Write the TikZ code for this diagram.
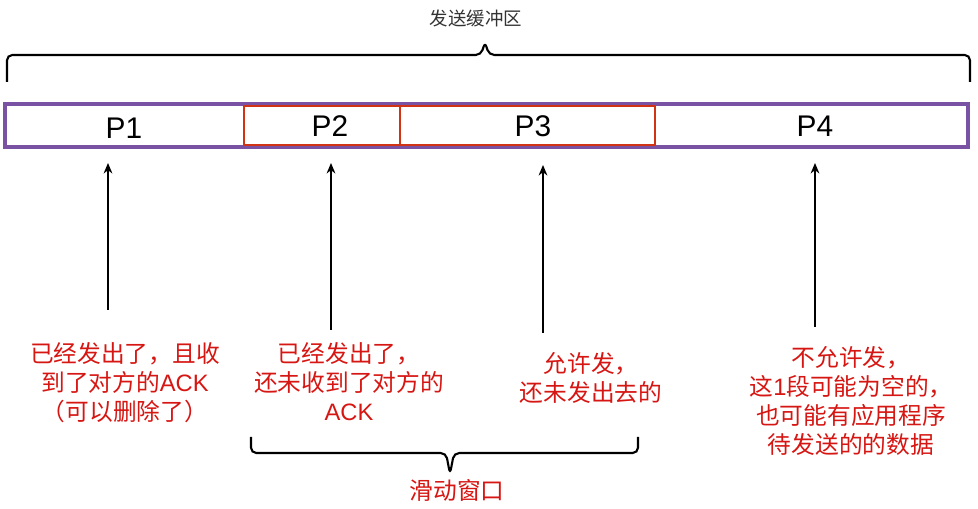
\documentclass[tikz,border=0pt]{standalone}
\usepackage{fontspec}
\setmainfont{Liberation Sans}
\newfontfamily\cjk{Noto Sans CJK SC}
\usepackage{tikz}
\usetikzlibrary{positioning, arrows.meta}
\definecolor{mypurple}{RGB}{122,82,164}
\definecolor{myred}{RGB}{208,52,20}
\definecolor{txtred}{RGB}{214,22,18}

\begin{document}
\begin{tikzpicture}[x=0.02cm, y=-0.02cm,
cell/.style={font=\fontsize{17}{20}\selectfont},
note/.style={align=center, text=txtred, font=\fontsize{13.5}{16.5}\selectfont\cjk},
arrow/.style={-{Stealth[length=6pt, width=5pt]}, line width=0.9pt},
brace/.style={line width=1.2pt, rounded corners=3pt}
]
\useasboundingbox (0,0) rectangle (978,509);

% send buffer
\node[font=\fontsize{10.5}{12}\selectfont\cjk, text=black!80] (title) at (476,18) {发送缓冲区};
\draw[brace] (7,82) -- (7,55) -- (481,55) -- (485,42) -- (489,55) -- (970,55) -- (970,82);

\draw[mypurple, line width=1.9pt] (5,104) rectangle (968,147);
\draw[myred, line width=1.6pt] (244,106) rectangle (400,145);
\draw[myred, line width=1.6pt] (400,106) rectangle (655,145);

\node[cell] (p1) at (124,128) {P1};
\node[cell] (p2) at (330,126) {P2};
\node[cell] (p3) at (533,126) {P3};
\node[cell] (p4) at (815,126) {P4};

% arrows
\coordinate (a1) at (108,310); \coordinate (b1) at (108,163);
\coordinate (a2) at (331,330); \coordinate (b2) at (331,163);
\coordinate (a3) at (543,333); \coordinate (b3) at (543,165);
\coordinate (a4) at (815,327); \coordinate (b4) at (815,163);
\draw[arrow] (a1) -- (b1);
\draw[arrow] (a2) -- (b2);
\draw[arrow] (a3) -- (b3);
\draw[arrow] (a4) -- (b4);

% notes
\node[note] (t1) at (125,383) {已经发出了，且收\\到了对方的{\fontspec{Liberation Sans}ACK}\\（可以删除了）};
\node[note] (t2) at (349,382) {已经发出了，\\还未收到了对方的\\{\fontspec{Liberation Sans}ACK}};
\node[note] (t3) at (591,378) {允许发，\\还未发出去的};
\node[note] (t4) at (851,401) {不允许发，\\这{\fontspec{Liberation Sans}1}段可能为空的，\\也可能有应用程序\\待发送的的数据};

% sliding window
\draw[brace] (251,437) -- (251,453) -- (446,453) -- (450,474) -- (454,453) -- (638,453) -- (638,437);
\node[note] (win) at (457,490) {滑动窗口};

\end{tikzpicture}
\end{document}
